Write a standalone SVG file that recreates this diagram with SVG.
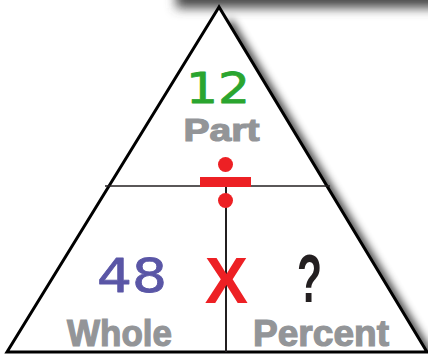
<svg xmlns="http://www.w3.org/2000/svg" width="428" height="356" viewBox="0 0 428 356">
  <defs>
    <filter id="blurTop" x="-20%" y="-100%" width="140%" height="300%">
      <feGaussianBlur stdDeviation="5.5"/>
    </filter>
    <filter id="blurEdge" x="-20%" y="-20%" width="140%" height="140%">
      <feGaussianBlur stdDeviation="4"/>
    </filter>
    <clipPath id="aboveBase">
      <rect x="0" y="0" width="428" height="351"/>
    </clipPath>
    <style>
      .label { font-family: "Liberation Sans", Arial, sans-serif; font-weight: bold; fill: #939598; stroke: #939598; stroke-width: 1.2; }
      .hand { font-family: "DejaVu Sans", sans-serif; stroke-width: 0.8; stroke-linejoin: round; }
    </style>
  </defs>

  <rect width="428" height="356" fill="#ffffff"/>

  <!-- shadows -->
  <g id="shadows">
    <rect x="176" y="-14" width="272" height="22" fill="#4a4a4a" filter="url(#blurTop)"/>
    <g clip-path="url(#aboveBase)">
      <line x1="228" y1="22" x2="434" y2="364" stroke="#000" stroke-width="9" filter="url(#blurEdge)" opacity="0.8"/>
    </g>
  </g>

  <!-- triangle -->
  <g id="triangle">
    <polygon points="219,7 7,352 427,352" fill="#ffffff" stroke="#000000" stroke-width="3" stroke-linejoin="miter"/>
  </g>

  <!-- dividers -->
  <g id="connectors">
    <line x1="105" y1="186" x2="330" y2="186" stroke="#231f20" stroke-width="1.6"/>
    <line x1="226" y1="187" x2="226" y2="352" stroke="#231f20" stroke-width="2"/>
  </g>

  <g id="part">
    <text class="hand" x="186" y="103" font-size="42" fill="#2aa52f" stroke="#2aa52f" textLength="64" lengthAdjust="spacingAndGlyphs">12</text>
    <text class="label" x="221.5" y="140.5" font-size="32" text-anchor="middle" textLength="76" lengthAdjust="spacingAndGlyphs">Part</text>
  </g>

  <g id="divide">
    <circle cx="225.5" cy="164.5" r="7.5" fill="#ed2024"/>
    <rect x="200" y="177" width="51" height="10" fill="#ed2024"/>
    <circle cx="225.5" cy="200.5" r="7.5" fill="#ed2024"/>
  </g>

  <g id="whole">
    <text class="hand" x="97" y="292" font-size="46" fill="#5a56a6" stroke="#5a56a6" textLength="70" lengthAdjust="spacingAndGlyphs">48</text>
    <text class="label" x="67" y="346" font-size="37" textLength="105" lengthAdjust="spacingAndGlyphs">Whole</text>
  </g>

  <g id="times">
    <text x="226.5" y="303" font-family="Liberation Sans, Arial, sans-serif" font-weight="bold" font-size="65" fill="#ed2024" text-anchor="middle">X</text>
  </g>

  <g id="percent">
    <text x="297" y="302" font-family="Liberation Sans, Arial, sans-serif" font-weight="bold" font-size="68" fill="#231f20" textLength="25" lengthAdjust="spacingAndGlyphs">?</text>
    <text class="label" x="253" y="346" font-size="37" textLength="136" lengthAdjust="spacingAndGlyphs">Percent</text>
  </g>
</svg>
